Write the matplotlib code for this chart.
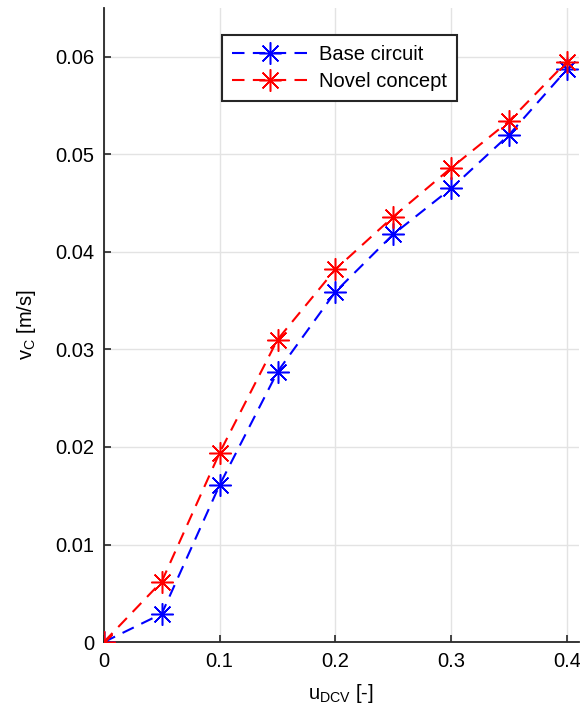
import matplotlib
matplotlib.use("Agg")
import matplotlib.pyplot as plt

u_dcv = [0.0, 0.05, 0.10, 0.15, 0.20, 0.25, 0.30, 0.35, 0.40]
base_circuit = [0.0, 0.0029, 0.0161, 0.0277, 0.0359, 0.0418, 0.0465, 0.0520, 0.0587]
novel_concept = [0.0, 0.0062, 0.0194, 0.0310, 0.0382, 0.0436, 0.0486, 0.0534, 0.0595]
xticks = [0, 0.1, 0.2, 0.3, 0.4]
xticklabels = ["0", "0.1", "0.2", "0.3", "0.4"]
yticks = [0, 0.01, 0.02, 0.03, 0.04, 0.05, 0.06]
yticklabels = ["0", "0.01", "0.02", "0.03", "0.04", "0.05", "0.06"]

plt.rcParams['font.family'] = ['Liberation Sans', 'DejaVu Sans']
plt.rcParams['mathtext.default'] = 'regular'

fs = 14.5
fig = plt.figure(figsize=(5.8, 7.15), dpi=100)
ax = fig.add_axes([0.179, 0.102, 0.8186, 0.887])

mk = (8, 2, 0)
ax.plot(u_dcv, base_circuit, color='#0000ff', linestyle=(0, (6, 4)), lw=1.5,
        marker=mk, markersize=16, markeredgewidth=1.1, label='Base circuit', zorder=3)
ax.plot(u_dcv, novel_concept, color='#ff0000', linestyle=(0, (6, 4)), lw=1.5,
        marker=mk, markersize=16, markeredgewidth=1.1, label='Novel concept', zorder=3)

ax.set_xlim(0, 0.41)
ax.set_ylim(0, 0.065)
ax.set_xticks(xticks)
ax.set_xticklabels(xticklabels)
ax.set_yticks(yticks)
ax.set_yticklabels(yticklabels)
ax.tick_params(direction='in', length=5, width=1.2, labelsize=fs, colors='#262626',
               labelcolor='black', pad=7)
ax.grid(True, color='#e3e3e3', linewidth=1.0)
ax.set_axisbelow(True)
for s in ['top', 'right']:
    ax.spines[s].set_visible(False)
for s in ['left', 'bottom']:
    ax.spines[s].set_linewidth(1.3)
    ax.spines[s].set_color('#262626')

ax.set_xlabel(r'u$_{DCV}$ [-]', fontsize=fs, labelpad=8)
ax.set_ylabel(r'v$_{C}$ [m/s]', fontsize=fs, labelpad=12)

leg = ax.legend(loc='upper left', bbox_to_anchor=(0.249, 0.957), borderaxespad=0,
                fontsize=fs, fancybox=False, framealpha=1, edgecolor='#262626',
                handlelength=3.8, borderpad=0.5, labelspacing=0.4, handletextpad=0.5)
leg.get_frame().set_linewidth(1.5)

fig.savefig('out.png', dpi=100)
